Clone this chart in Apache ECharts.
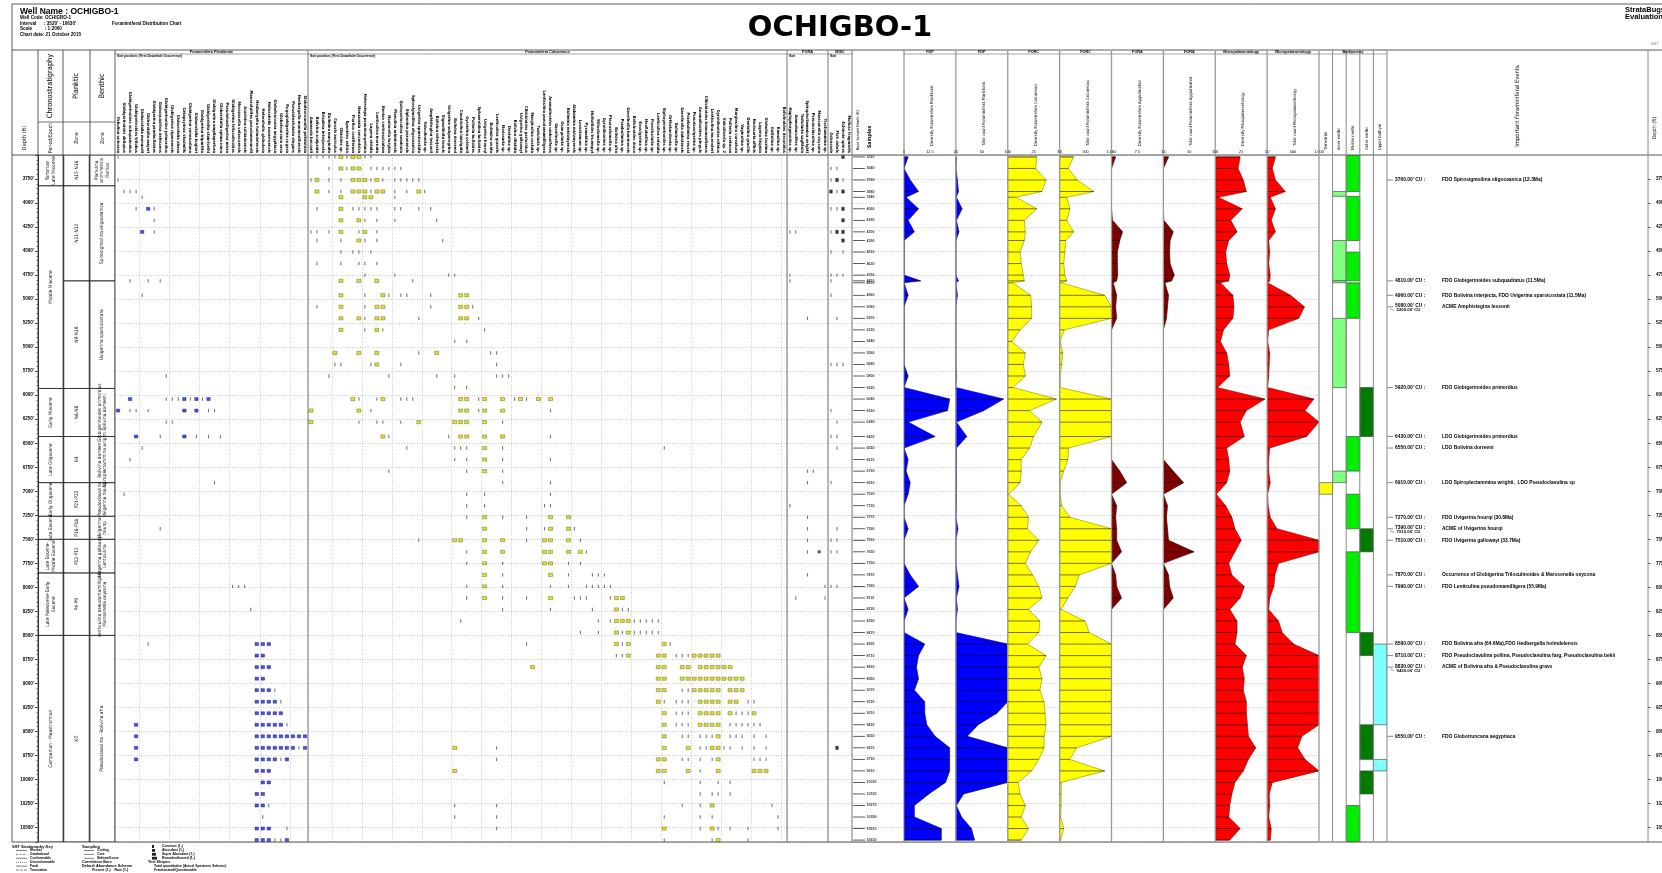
<!DOCTYPE html>
<html>
<head>
<meta charset="utf-8">
<title>OCHIGBO-1 Foraminiferal Distribution Chart</title>
<script src="https://cdn.jsdelivr.net/npm/echarts@6/dist/echarts.min.js"></script>
<style>
html,body{margin:0;padding:0;background:#ffffff;}
#chart{width:1662px;height:873px;}
</style>
</head>
<body>
<div id="chart"></div>
<script>
// ---------------- depth range & samples ----------------
const depthMin = 3500;
const depthMax = 10650;
const depthStep = 250;

const sampleDepths = [3520,3640,3760,3880,3940,4060,4180,4300,4390,4510,4630,4750,4810,4830,4960,5080,5200,5320,5440,5560,5680,5800,5920,6040,6160,6280,6430,6550,6670,6790,6910,7030,7150,7270,7390,7510,7630,7750,7870,7990,8110,8230,8350,8470,8590,8710,8830,8950,9070,9190,9310,9430,9550,9670,9790,9910,10030,10150,10270,10390,10510,10630];

// ---------------- curve logs (one value per sample) ----------------
const fdpDiversity = [2,0,3,7,1,7,2,5,0,0,0,0,8,0, 2,0,0,0,0,0,0,2,0,22,21,2, 15,0,2,1,3,2,0, 0,2,0,0,0,3,7,0,2,0,0,10,7,6,7,5,10,10,11,15,22,22,22,20,12,5,5,18,18];
const fdpCount = [1,0,3,5,1,12,1,6,0,0,0,0,5,0, 3,0,0,0,0,0,0,1,0,92,54,1, 21,1,1,1,1,1,1, 0,4,0,0,0,3,6,1,3,0,0,100,100,100,100,100,100,79,43,22,100,100,100,100,15,1,11,30,36];
const forcDiversity = [28,27,37,33,8,28,16,17,16,12,13,15,16,5, 22,23,23,12,4,17,15,17,5,47,21,33, 25,21,13,13,12,1,13, 20,19,30,22,17,24,30,33,20,31,30,19,37,30,33,31,35,36,37,35,35,30,23,10,12,17,13,20,13];
const forcCount = [270,170,340,660,140,200,140,270,120,100,80,100,140,30, 870,1000,1000,90,10,60,40,10,10,1000,1000,1000, 1000,170,160,80,10,10,40, 200,1000,1000,1000,1000,380,300,160,30,490,570,1000,1000,1000,1000,1000,1000,1000,1000,1000,330,190,870,30,30,30,20,80,20];
const foraDiversity = [1.2,0,0,0,0,0,0.3,3.2,2.4,1.7,1.7,1.8,1.5,0.5, 1.5,1.2,1.5,0,0,0,0,0,0,0,0,0, 0,0,0,2.4,4.4,0,1.5, 1.2,1.5,1.5,2.9,0,1.2,1.5,2.9,0,0,0,0,0,0,0,0,0,0,0,0,0,0,0,0,0,0,0,0,0];
const foraCount = [10,0,0,0,0,0,1,19,13,12,13,21,16,3, 10,8,6,0,0,0,0,0,0,0,0,0, 0,0,0,19,39,0,8, 6,8,10,59,0,10,12,19,0,0,0,0,0,0,0,0,0,0,0,0,0,0,0,0,0,0,0,0,0];
const microDiversity = [24,22,27,30,3,26,15,21,13,10,11,14,13,5, 17,18,17,8,5,11,13,14,2,48,30,24, 28,11,13,14,11,1,10, 16,19,25,19,13,16,28,24,14,21,21,19,30,26,28,27,30,30,31,32,39,32,27,19,16,14,13,24,14];
const microCount = [160,100,160,350,60,160,80,160,30,50,30,60,50,10, 450,720,610,30,10,50,40,30,10,900,730,1000, 760,50,30,30,60,10,20, 60,190,1000,1000,220,150,130,50,30,220,290,510,1000,1000,1000,1000,1000,1000,1000,670,590,730,1000,100,40,50,30,80,60];

const curveGroups = ['FDP','FDP','FORC','FORC','FORA','FORA','Micropalaeontology','Micropalaeontology'];
const curveTitles = ['Diversity Foraminifera Planktonic','Total count Foraminifera Planktonic','Diversity Foraminifera Calcareous','Total count Foraminifera Calcareous','Diversity Foraminifera Agglutinated','Total count Foraminifera Agglutinated','Diversity Micropalaeontology','Total count Micropalaeontology'];
const curveScaleMax = [25,100,50,1000,15,100,50,1000];
const curveValues = [fdpDiversity, fdpCount, forcDiversity, forcCount, foraDiversity, foraCount, microDiversity, microCount];

// ---------------- species lists ----------------
const planktonicSpecies = ['Orbulina universa','Globigerinoides obliquus','Globigerinoides subquadratus','Globigerinoides trilobus','Globorotalia menardii','Globorotalia mayeri','Globigerina praebulloides','Globoquadrina dehiscens','Globigerinoides primordius','Globigerina ciperoensis','Globorotalia obesa','Catapsydrax dissimilis','Globigerina venezuelana','Globorotalia kugleri','Globigerina tripartita','Globigerinita stainforthi','Globigerina ampliapertura','Globorotalia opima nana','Pseudohastigerina micra','Globigerina triloculinoides','Morozovella velascoensis','Acarinina soldadoensis','Planorotalites pseudomenardii','Hedbergella holmdelensis','Heterohelix globulosa','Heterohelix navarroensis','Globotruncana aegyptiaca','Globotruncana arca','Rugoglobigerina rugosa','Pseudotextularia elegans','Hedbergella monmouthensis','Globotruncanella petaloidea'];

const calcareousSpecies = ['Ammonia beccarii','Bolivina scalprata','Brizalina interjuncta','Bulimina marginata','Cancris auriculus','Cibicides sp.','Eponides eshira','Florilus costiferum','Hanzawaia concentrica','Heterolepa pseudoungeriana','Lagena striata','Lenticulina inornata','Nonion centrosulcatum','Nonionella turgida','Planulina ariminensis','Quinqueloculina seminula','Siphonina pozonensis','Spirosigmoilina oligoceanica','Uvigerina sparsicostata','Valvulineria sp.','Amphistegina lessonii','Bolivina interjecta','Sigmoilinita tenuis','Uvigerina subperegrina','Bolivina dorreeni','Cassidulina laevigata','Gyroidina soldanii','Pullenia bulloides','Sphaeroidina bulloides','Uvigerina hourqi','Bulimina ovata','Lenticulina grandis','Nodosaria sp.','Dentalina sp.','Bolivina dilatata','Uvigerina gallowayi','Cibicidoides perlucidus','Marginulina costata','Textularia sp.','Lenticulina pseudomamilligera','Anomalinoides umboniferus','Gavelinella sp.','Osangularia sp.','Bulimina midwayensis','Alabamina midwayensis','Loxostomum sp.','Pyramidina sp.','Nuttallides truempyi','Stilostomella sp.','Gyroidinoides sp.','Pleurostomella sp.','Bolivina afra','Praebulimina sp.','Gavelinella beninensis','Bolivinoides draco','Eouvigerina sp.','Neoflabellina sp.','Frondicularia sp.','Lenticulina rotulata','Siphogenerinoides sp.','Orthokarstenia sp.','Buliminella sp.','Gavelinella dakotensis','Praebulimina reussi','Pseudouvigerina sp.','Anomalinoides pinguis','Cibicidoides beaumontianus','Lenticulina muensteri','Gyroidinoides nitidus','Valvulineria sp. 2','Pullenia cretacea','Marginulina curvatura','Vaginulina sp.','Dentalina gracilis','Nodosaria affinis','Lagena hispida','Globulina lacrima','Guttulina sp.','Ramulina sp.','Bolivinoides decoratus'];

const agglutinatedSpecies = ['Haplophragmoides sp.','Ammobaculites sp.','Textularia sagittula','Spiroplectammina wrighti','Pseudoclavulina sp.','Marssonella oxycona','Trochammina sp.'];
const otherFossils = ['Ostracoda','Fish debris','Echinoid spines','Mollusc fragments'];

// ---------------- occurrences: [depth, rare species, common species, reworked species] ----------------
const planktonicRecords = [
  [3520,[0],[]],[3760,[0],[]],[3880,[1,2,3],[]],[3940,[4],[]],[4060,[3,6],[5]],[4180,[6],[]],[4300,[6],[4]],
  [4810,[2,5,7],[]],[4960,[4],[]],[5800,[8],[]],[6040,[8,9,10,12,14],[2,11,13,15]],[6160,[2,3,5,15,16],[0,11,13]],
  [6280,[8,9],[]],[6430,[7,13,15,17],[3,11]],[6550,[4],[]],[6670,[2],[]],[6910,[16],[]],[7030,[1],[]],[7390,[7],[]],
  [7990,[19,20,21],[]],[8230,[22],[]],[8590,[5],[23,24,25]],[8710,[],[23,24]],[8830,[],[23,24,25]],[8950,[],[23,24]],
  [9070,[26],[23,24,25]],[9190,[27],[23,24,25,26]],[9310,[],[23,24,25,26,27]],[9430,[28],[3,23,24,25,26,27]],
  [9550,[],[3,23,24,25,26,27,28,29,30,31]],[9670,[30],[3,23,24,25,26,27,28,29,31]],[9790,[27],[3,23,24,25,26,28]],
  [9910,[],[23,24,25]],[10030,[],[24,25]],[10150,[],[23,24]],[10270,[25],[23,24]],[10390,[24],[]],
  [10510,[28],[23,24,25]],[10630,[26,27],[23,24,25,28]]
];

const calcareousRecords = [
  [3520,[0,1,2,3,4,6,9,10],[5,7,8]],
  [3640,[3,6,10,11,12,13,14,15],[5,7,8]],
  [3760,[0,3,5,10,12,14,15,16,17,18],[1,7,8,9,11]],
  [3880,[3,5,10,14,16,19],[1,7,8,9,11,12,18]],
  [3940,[14],[5,9,10]],
  [4060,[1,7,8,9,10,11,14,15,18,20],[5]],
  [4180,[9,11,14,21],[5,8]],
  [4300,[0,1,3,8,11],[5,9]],
  [4390,[1,5,9,11,22],[8]],
  [4510,[5,7,8,10],[]],
  [4630,[1,5,8,9,11],[]],
  [4750,[9,14,23,24],[]],
  [4810,[17],[5,8,11]],
  [4960,[9,13,15,16,20],[5,12,25,26]],
  [5080,[1,9,20,27],[5,11,12,25,26]],
  [5200,[9,18,28],[5,8,11,12,25,26]],
  [5320,[9,12,29],[5,11]],
  [5440,[24,26],[]],
  [5560,[18,30,31],[4,8,11,21]],
  [5680,[4,5,10,15,31],[11]],
  [5800,[3,13,21,24,31,32,33],[]],
  [5920,[24,26],[]],
  [6040,[8,11,15,16,17,28,34,36],[7,12,25,26,29,32,35,38,40]],
  [6160,[10,28,40],[0,8,25,26,29,32]],
  [6280,[8,11,12,15,32],[0,18,24,25,26,29]],
  [6430,[13,23,40],[12,25,26,29,32]],
  [6550,[16,24,25,26,32,59],[29]],
  [6670,[24,26,32,40],[29]],
  [6790,[13,26,32],[29]],
  [6910,[32,40],[]],
  [7030,[26,29,40],[]],
  [7150,[26,29,39,40],[]],
  [7270,[26,32,36],[29,40,43]],
  [7390,[36,39,44],[29,40,43]],
  [7510,[18,36,45],[24,25,29,32,39,40,43]],
  [7630,[26,46],[29,32,39,40,43,45]],
  [7750,[26,32,43,45],[29,39,40]],
  [7870,[32,43,47,48,49],[29,40]],
  [7990,[26,32,40,43,46,47,48,49,50],[29]],
  [8110,[26,32,36,44,45,46,50],[29,40,51,52]],
  [8230,[32,40,47,52,53],[51]],
  [8350,[25,48,50,54,55,56,57,58],[51,52,53]],
  [8470,[45,48,52,54,55,56,57,58],[51,53]],
  [8590,[36,52,60],[51,53,59]],
  [8710,[51,52,61,62,63],[53,58,59,64,65,66,67,68]],
  [8830,[],[37,58,59,62,63,65,66,67,68,69,70]],
  [8950,[],[58,59,62,63,64,65,66,67,68,69,70,71,72]],
  [9070,[62,63],[58,59,64,65,66,67,68,70,71,72]],
  [9190,[59,61,62,63,73,74],[58,65,66,67,68,70,71]],
  [9310,[61,62,63,71,72,73],[59,65,66,67,68,70,74]],
  [9430,[61,62,63,70,71,72,73,74,75],[59,65,66,67,68]],
  [9550,[62,63,65,66,67,70,71,72,74,76],[59,68]],
  [9670,[31,65,66,69,70,72,74,76],[24,59,63,67,68]],
  [9790,[31,62,63,65,67,74,75,76],[58,59,68]],
  [9910,[65],[24,58,59,63,68,74,75,76]],
  [10030,[59,65,68,70],[]],
  [10150,[65,67,68,70],[]],
  [10270,[24,31,62,65,77],[67]],
  [10390,[24,31,59,65,67,78],[]],
  [10510,[31,65,68,70,73,78],[59,67]],
  [10630,[59,67,73],[68]]
];

const agglutinatedRecords = [
  [4300,[0,1],[]],[4750,[0],[]],[4810,[0],[]],[5200,[3],[]],[6790,[3,4],[]],[6910,[3],[]],
  [7150,[0],[]],[7270,[3],[]],[7390,[3],[]],[7510,[3],[]],[7630,[3],[],[5]],[7870,[3],[]],
  [7990,[6],[]],[8110,[1,6],[]]
];

const otherRecords = [
  [3520,[],[2]],[3640,[0,1],[]],[3760,[0,2],[1]],[3880,[1],[0,2]],[4060,[0,1],[2]],[4180,[],[2]],
  [4300,[0],[1,2]],[4390,[],[2]],[4510,[0,2],[]],[4750,[0,1,2],[]],[4810,[0],[]],[4960,[0],[]],
  [5200,[1],[]],[5680,[0,1,2],[]],[6160,[0],[]],[6280,[1],[]],[6430,[0,1],[]],[6550,[1],[]],
  [6910,[0],[]],[7390,[1],[]],[7510,[0,1],[]],[7630,[0,1],[]],[7990,[0,1],[]],[9670,[],[1]]
];

// ---------------- stratigraphy ----------------
const periodZones = [
  [3500,3820,'Tortonian\nLate Miocene'],
  [3820,5930,'Middle Miocene'],
  [5930,6430,'Early Miocene'],
  [6430,6910,'Late Oligocene'],
  [6910,7260,'Early Oligocene'],
  [7260,7500,'Late Eocene'],
  [7500,7850,'Late Eocene-\nMiddle Eocene'],
  [7850,8500,'Late Paleocene-Early\nEocene'],
  [8500,10650,'Campanian - Maastrichtian']
];
const planktonicZones = [
  [3500,3820,'N15-N16'],[3820,4810,'N11-N12'],[4810,5930,'N9-N10'],[5930,6430,'N6-N8'],[6430,6910,'N4'],
  [6910,7260,'P21-P22'],[7260,7500,'P16-P18'],[7500,7850,'P12-P15'],[7850,8500,'P4-P9'],[8500,10650,'K-T']
];
const benthicZones = [
  [3500,3820,'Planulina\nariminensis\nFlorilus'],
  [3820,4810,'Spirosigmoilina oligoceanica'],
  [4810,5930,'Uvigerina sparsicostata'],
  [5930,6430,'Globigerinoides primordius\nBolivina dorreeni'],
  [6430,6910,'Bolivina dorreeni\nSpiroplectammina wrighti'],
  [6910,7260,'Pseudoclavulina\nUvigerina hourqi'],
  [7260,7500,'Uvigerina\nhourqi'],
  [7500,7850,'Uvigerina gallowayi\nLenticulina'],
  [7850,8500,'Lenticulina pseudomamilligera\nMarssonella oxycona'],
  [8500,10650,'Pseudoclavulina - Bolivina afra']
];

// ---------------- palaeoenvironment ----------------
const environments = ['Terrestrial','Inner neritic','Middle neritic','Outer neritic','Upper bathyal'];
// [environment index, top depth, base depth]
const environmentBlocks = [
  [2,3500,3880],[1,3880,3930],[2,3930,4390],[1,4390,4810],[2,4510,4810],[1,4810,4830],[2,4830,5200],
  [1,5200,5920],[3,5920,6430],[2,6430,6790],[1,6790,6910],[0,6910,7030],[2,7030,7390],[3,7390,7630],
  [2,7630,8470],[3,8470,8710],[4,8590,9430],[3,9430,9790],[4,9790,9910],[3,9910,10150],[2,10270,10650]
];

// ---------------- events ----------------
const eventDepths = [[3760],[4810],[4960],[5080,5200],[5920],[6430],[6550],[6910],[7270],[7390,7510],[7510],[7870],[7990],[8590],[8710],[8830,9430],[9550]];
const eventNotes = [
  'FDO Spirosigmoilina oligoceanica (12.3Ma)',
  'FDO Globigerinoides subquadratus (11.5Ma)',
  'FDO Bolivina interjecta, FDO Uvigerina sparsicostata (11.5Ma)',
  'ACME Amphistegina lessonii',
  'FDO Globigerinoides primordius',
  'LDO Globigerinoides primordius',
  'LDO Bolivina dorreeni',
  'LDO Spiroplectammina wrighti,  LDO Pseudoclavulina sp',
  'FDO Uvigerina hourqi (30.8Ma)',
  'ACME of Uvigerina hourqi',
  'FDO Uvigerina gallowayi (33.7Ma)',
  'Occurrence of Globigerina Triloculinoides & Marssonella oxycona',
  'FDO Lenticulina pseudomamilligera (55.9Ma)',
  'FDO Bolivina afra (64.6Ma),FDO Hedbergella holmdelensis',
  'FDO Pseudoclavulina pollina, Pseudoclavulina farg, Pseudoclavulina bekii',
  'ACME of Bolivina afra & Pseudoclavulina gravs',
  'FDO Globotruncana aegyptiaca'
];

// ================= layout & styling =================
const SANS = "'Liberation Sans', Arial, sans-serif";
const NARROW = "'Liberation Sans Narrow','DejaVu Sans Condensed','Liberation Sans',sans-serif";
const TOP = 155, BOTTOM = 842, H = BOTTOM - TOP;
const HEAD_TOP = 50;

const grids = [], xAxes = [], yAxes = [], series = [];
const hiddenY = {type:'value', min:depthMin, max:depthMax, inverse:true, interval:depthStep,
  axisLine:{show:false}, axisTick:{show:false}, axisLabel:{show:false}, splitLine:{show:false}};
const dottedY = Object.assign({}, hiddenY, {splitLine:{show:true, lineStyle:{type:[1, 1.6], color:'#9e9e9e', width:0.6}}});

function addGrid(left, width, xAxis, yAxis) {
  const i = grids.length;
  grids.push({left:left, top:TOP, width:width, height:H, outerBoundsMode:'none', containLabel:false});
  xAxes.push(Object.assign({gridIndex:i}, xAxis));
  yAxes.push(Object.assign({gridIndex:i}, yAxis));
  return i;
}
const unitX = (max) => ({type:'value', min:0, max:max, show:false});

// ---- depth + chronostratigraphy ----
const gChrono = addGrid(38, 77, unitX(3), Object.assign({}, hiddenY, {
  axisLine:{show:true, lineStyle:{color:'#000', width:0.8}},
  axisTick:{show:true, length:3, lineStyle:{color:'#000', width:0.7}},
  minorTick:{show:true, splitNumber:5, length:1.5, lineStyle:{color:'#000', width:0.5}},
  axisLabel:{show:true, margin:4, fontSize:4.6, fontWeight:'bold', color:'#000', fontFamily:SANS,
    showMinLabel:false, showMaxLabel:false, formatter:(v) => v + "'"}
}));
const chronoItems = [];
periodZones.forEach(z => chronoItems.push({value:[0, z[0], z[1]], name:z[2]}));
planktonicZones.forEach(z => chronoItems.push({value:[1, z[0], z[1]], name:z[2]}));
benthicZones.forEach(z => chronoItems.push({value:[2, z[0], z[1]], name:z[2]}));
series.push({type:'custom', xAxisIndex:gChrono, yAxisIndex:gChrono, silent:true, clip:true, data:chronoItems,
  renderItem:function(params, api){
    const c = api.value(0);
    const p1 = api.coord([c, api.value(1)]), p2 = api.coord([c + 1, api.value(2)]);
    const name = chronoItems[params.dataIndex].name;
    return {type:'group', children:[
      {type:'rect', shape:{x:p1[0], y:p1[1], width:p2[0]-p1[0], height:p2[1]-p1[1]},
        style:{fill:'rgba(0,0,0,0)', stroke:'#222', lineWidth:0.7}},
      {type:'text', x:(p1[0]+p2[0])/2, y:(p1[1]+p2[1])/2, rotation:Math.PI/2,
        style:{text:name, fill:'#000', fontSize:4.8, fontFamily:NARROW, lineHeight:5.2,
          align:'center', verticalAlign:'middle', textAlign:'center', textVerticalAlign:'middle'}}
    ]};
  }});

// ---- distribution panels ----
function speciesAxis(names) {
  return {type:'category', data:names, position:'top', boundaryGap:true,
    axisLine:{show:false}, axisTick:{show:false},
    axisLabel:{show:true, interval:0, rotate:90, fontSize:4, fontWeight:'bold', margin:2, color:'#000', fontFamily:NARROW, hideOverlap:false},
    splitLine:{show:true, interval:(i) => i % 5 === 4, lineStyle:{type:[1, 1.6], color:'#a6a6a6', width:0.6}}};
}
function pick(records, k) {
  const out = [];
  records.forEach(r => (r[k] || []).forEach(s => out.push([s, r[0]])));
  return out;
}
function occurrenceSeries(g, records, commonStyle) {
  series.push({type:'scatter', xAxisIndex:g, yAxisIndex:g, silent:true, symbol:'rect', symbolSize:[1.1, 3.4],
    itemStyle:{color:'#555'}, data:pick(records, 1)});
  series.push({type:'scatter', xAxisIndex:g, yAxisIndex:g, silent:true, symbol:'rect', symbolSize:commonStyle.size,
    itemStyle:{color:commonStyle.color, borderColor:commonStyle.border, borderWidth:0.5}, data:pick(records, 2)});
  series.push({type:'scatter', xAxisIndex:g, yAxisIndex:g, silent:true, symbol:'rect', symbolSize:[3, 3],
    itemStyle:{color:'#a00000'}, data:pick(records, 3)});
}
const gPlank = addGrid(115, 193, speciesAxis(planktonicSpecies), dottedY);
occurrenceSeries(gPlank, planktonicRecords, {size:[3.4, 3], color:'#1c2fd6', border:'#000050'});
const gCalc = addGrid(308, 479, speciesAxis(calcareousSpecies), dottedY);
occurrenceSeries(gCalc, calcareousRecords, {size:[4, 3.2], color:'#dcd800', border:'#4a4a00'});
const gAgg = addGrid(787, 41, speciesAxis(agglutinatedSpecies), dottedY);
occurrenceSeries(gAgg, agglutinatedRecords, {size:[3, 3], color:'#222', border:'#000'});
const gOther = addGrid(828, 24, speciesAxis(otherFossils), dottedY);
occurrenceSeries(gOther, otherRecords, {size:[2.6, 3.2], color:'#111', border:'#000'});

// ---- sample column ----
const gSample = addGrid(852, 52, unitX(1), dottedY);
series.push({type:'scatter', xAxisIndex:gSample, yAxisIndex:gSample, silent:true, symbol:'rect', symbolSize:[12, 0.8],
  itemStyle:{color:'#000'}, data:sampleDepths.map(d => [0.135, d]),
  label:{show:true, position:'right', distance:1.5, fontSize:3.6, fontWeight:'bold', color:'#000', fontFamily:SANS,
    formatter:(p) => String(p.value[1])}});

// ---- curve logs ----
const curveFill = ['#0000ff','#0000ff','#ffff00','#ffff00','#800000','#800000','#ff0000','#ff0000'];
const curveEdge = ['#00008a','#00008a','#8a8a00','#8a8a00','#3a0000','#3a0000','#8a0000','#8a0000'];
const curveLeft = 904, curveWidth = 51.875;
curveValues.forEach((vals, c) => {
  const max = curveScaleMax[c];
  const g = addGrid(curveLeft + c * curveWidth, curveWidth, {
    type:'value', min:0, max:max, interval:max / 2, position:'top',
    axisLine:{show:false}, axisTick:{show:false}, splitLine:{show:false},
    axisLabel:{show:true, fontSize:3.8, margin:1.5, color:'#000', fontFamily:SANS}
  }, dottedY);
  series.push({type:'custom', xAxisIndex:g, yAxisIndex:g, silent:true, clip:true,
    data:vals.map((v, k) => [v, sampleDepths[k]]),
    renderItem:function(params, api){
      const children = [];
      if (params.dataIndex === 0) {
        const pts = [api.coord([0, sampleDepths[0]])];
        vals.forEach((v, k) => pts.push(api.coord([v, sampleDepths[k]])));
        pts.push(api.coord([0, sampleDepths[sampleDepths.length - 1]]));
        children.push({type:'polygon', shape:{points:pts}, style:{fill:curveFill[c], stroke:curveEdge[c], lineWidth:0.6}});
      }
      const a = api.coord([0, api.value(1)]), b = api.coord([api.value(0), api.value(1)]);
      if (b[0] - a[0] > 0.8) {
        children.push({type:'line', shape:{x1:a[0], y1:a[1], x2:b[0], y2:b[1]}, style:{stroke:'#000', lineWidth:0.55}});
      }
      return {type:'group', children:children};
    }});
});

// ---- palaeoenvironment ----
const envFill = ['#ffff00','#80ff80','#00ee00','#007a00','#80ffff'];
const gEnv = addGrid(1319, 68, unitX(5), hiddenY);
series.push({type:'custom', xAxisIndex:gEnv, yAxisIndex:gEnv, silent:true, clip:true, data:environmentBlocks,
  renderItem:function(params, api){
    const c = api.value(0);
    const p1 = api.coord([c, api.value(1)]), p2 = api.coord([c + 1, api.value(2)]);
    return {type:'rect', shape:{x:p1[0], y:p1[1], width:p2[0]-p1[0], height:p2[1]-p1[1]},
      style:{fill:envFill[c], stroke:'#3a3a3a', lineWidth:0.6}};
  }});

// ---- events ----
const gEvents = addGrid(1387, 261, unitX(1), hiddenY);
series.push({type:'custom', xAxisIndex:gEvents, yAxisIndex:gEvents, silent:true,
  data:eventDepths.map(d => [0, d[0]]),
  renderItem:function(params, api){
    const depths = eventDepths[params.dataIndex];
    const p = api.coord([0, api.value(1)]);
    const x0 = p[0], y = p[1];
    const font = {fill:'#000', fontSize:4.9, fontWeight:'bold', fontFamily:SANS, align:'left', verticalAlign:'middle',
      textAlign:'left', textVerticalAlign:'middle'};
    const children = [
      {type:'line', shape:{x1:x0, y1:y, x2:x0 + 6, y2:y}, style:{stroke:'#333', lineWidth:0.6}},
      {type:'text', x:x0 + 8, y:depths.length > 1 ? y - 0.8 : y, style:Object.assign({text:depths[0].toFixed(2) + "' CU :"}, font)},
      {type:'text', x:x0 + 55, y:y, style:Object.assign({text:eventNotes[params.dataIndex]}, font)}
    ];
    if (depths.length > 1) {
      children.push({type:'text', x:x0 + 9.5, y:y + 3.2, style:Object.assign({}, font, {text:depths[1].toFixed(2) + "' CU", fontSize:4.3})});
      children.push({type:'line', shape:{x1:x0 + 3, y1:y + 2, x2:x0 + 7, y2:y + 3.5}, style:{stroke:'#333', lineWidth:0.5}});
    }
    return {type:'group', children:children};
  }});

// ---- right depth track ----
addGrid(1648, 14, unitX(1), Object.assign({}, hiddenY, {
  axisLine:{show:false},
  axisTick:{show:true, inside:true, length:2.5, lineStyle:{color:'#000', width:0.7}},
  axisLabel:{show:true, inside:true, margin:8, fontSize:4.6, fontWeight:'bold', color:'#000', fontFamily:SANS,
    showMinLabel:false, showMaxLabel:false, formatter:(v) => v + "'"}
}));

// ================= frame, headings, legend =================
const G = [];
function gl(x1, y1, x2, y2, stroke, w, dash) {
  G.push({type:'line', silent:true, z:50, shape:{x1:x1, y1:y1, x2:x2, y2:y2},
    style:{stroke:stroke || '#000', lineWidth:w || 0.8, lineDash:dash || null}});
}
function gt(x, y, text, o) {
  o = o || {};
  const align = o.align || 'left', valign = o.valign || 'middle';
  G.push({type:'text', silent:true, z:51, x:x, y:y, rotation:o.rot ? Math.PI / 2 : 0,
    style:{text:text, fill:o.color || '#000', fontSize:o.size || 5, fontWeight:o.bold ? 'bold' : 'normal',
      fontFamily:o.font || SANS, align:align, verticalAlign:valign, textAlign:align, textVerticalAlign:valign,
      lineHeight:o.lh || undefined}});
}

// outer frame and header rules
gl(12, 4, 1662, 4, '#333', 0.8);
gl(12, 4, 12, BOTTOM, '#333', 0.8);
gl(12, HEAD_TOP, 1662, HEAD_TOP, '#333', 0.8);
gl(12, TOP, 1662, TOP, '#555', 1);
gl(12, BOTTOM, 1662, BOTTOM, '#555', 1);
gl(38, 122, 115, 122, '#333', 0.7);
gl(115, 54, 852, 54, '#666', 0.6);
gl(904, 54, 1319, 54, '#666', 0.6);
gl(1319, 54, 1387, 54, '#666', 0.6);

// column dividers
[38, 63, 90, 115].forEach(x => gl(x, HEAD_TOP, x, BOTTOM, '#333', 0.8));
[308, 787, 828, 852, 904].forEach(x => gl(x, HEAD_TOP, x, BOTTOM, '#777', 1));
for (let c = 1; c <= 8; c++) gl(curveLeft + c * curveWidth, HEAD_TOP, curveLeft + c * curveWidth, BOTTOM, '#999', 1.3);
[1332.6, 1346.2, 1359.8, 1373.4, 1387].forEach(x => gl(x, HEAD_TOP, x, BOTTOM, '#888', 1));
gl(1648, HEAD_TOP, 1648, BOTTOM, '#888', 1);

// well header
gt(20, 12, 'Well Name : OCHIGBO-1', {size:8.5, bold:true});
gt(20, 18, 'Well Code: OCHIGBO-1', {size:4.6, bold:true});
gt(20, 23.5, 'Interval      : 3520\' - 10630\'', {size:4.6, bold:true});
gt(20, 29, 'Scale          : 1:2000', {size:4.6, bold:true});
gt(20, 34.5, 'Chart date: 21 October 2015', {size:4.6, bold:true});
gt(112, 23.5, 'Foraminiferal Distribution Chart', {size:4.6, bold:true});
gt(840, 28, 'OCHIGBO-1', {size:29, bold:true, font:"'DejaVu Sans', 'Liberation Sans', sans-serif", align:'center'});
gt(1625, 10, 'StrataBugs', {size:7.5, bold:true});
gt(1625, 17, 'Evaluation', {size:7.5, bold:true});
gt(1651, 44, 'SST', {size:3.8, color:'#777'});

// chronostratigraphy headings
gt(25, 138, 'Depth (ft)', {rot:true, size:5.6, font:NARROW, align:'center'});
gt(50.5, 86, 'Chronostratigraphy', {rot:true, size:7.4, font:NARROW, align:'center'});
gt(50.5, 138, 'Period/Epoch', {rot:true, size:5.2, font:NARROW, align:'center'});
gt(76.5, 86, 'Planktic', {rot:true, size:7.4, font:NARROW, align:'center'});
gt(76.5, 138, 'Zone', {rot:true, size:5.2, font:NARROW, align:'center'});
gt(102.5, 86, 'Benthic', {rot:true, size:7.4, font:NARROW, align:'center'});
gt(102.5, 138, 'Zone', {rot:true, size:5.2, font:NARROW, align:'center'});

// distribution group headings
[[115, 308, 'Foraminifera Planktonic'], [308, 787, 'Foraminifera Calcareous'], [787, 828, 'FORA'], [828, 852, 'MISC']].forEach(h => {
  gt((h[0] + h[1]) / 2, 51.8, h[2], {size:3.8, bold:true, align:'center'});
  gt(h[0] + 2, 56.2, h[1] - h[0] > 60 ? 'Sort position: (First Downhole Occurrence)' : 'Sort', {size:3.2, bold:true});
});

// sample column headings
gt(858, 150, 'Base Sample Depth (ft)', {rot:true, size:3.8, font:NARROW, align:'left'});
gt(870, 148, 'Samples', {rot:true, size:5.2, bold:true, font:NARROW, align:'left'});

// curve headings
curveTitles.forEach((t, c) => {
  const x0 = curveLeft + c * curveWidth;
  gt(x0 + curveWidth / 2, 51.8, curveGroups[c], {size:3.8, bold:true, align:'center'});
  gt(x0 + curveWidth / 2 + 2, 146, t, {rot:true, size:4.1, font:NARROW, align:'left'});
});

// environment headings
gt(1353, 51.8, 'Bathymetry', {size:3.8, bold:true, align:'center'});
environments.forEach((e, i) => gt(1319 + i * 13.6 + 6.8, 150, e, {rot:true, size:4.1, font:NARROW, align:'left'}));

// events & right depth headings
gt(1517, 106, 'Important Foraminiferal Events', {rot:true, size:5.8, font:NARROW, align:'center'});
gt(1655, 128, 'Depth (ft)', {rot:true, size:5.2, font:NARROW, align:'center'});

// key
gt(12, 846.5, 'SST Stratigraphy Key', {size:4, bold:true});
[['Normal', null], ['Gradational', [2, 1.5]], ['Conformable', null], ['Unconformable', [1, 1]], ['Fault', null], ['Truncation', [3, 1]]].forEach((k, i) => {
  const y = 850.5 + i * 3.9;
  gl(16, y, 27, y, '#000', 0.5, k[1]);
  gt(30, y, k[0], {size:3.4, bold:true});
});
gt(82, 846.5, 'Sampling', {size:4, bold:true});
['Cutting', 'Core', 'Sidewall core'].forEach((k, i) => {
  const y = 850.5 + i * 3.9;
  gl(84, y, 94, y, '#000', 0.5);
  gt(97, y, k, {size:3.4, bold:true});
});
gt(82, 862.2, 'Correlation Bars', {size:3.8, bold:true});
gt(82, 866.1, 'Default Abundance Scheme', {size:3.8, bold:true});
gt(92, 870, 'Present (1-)    Rare (1-)', {size:3.4, bold:true});
['Common (1-)', 'Abundant (1-)', 'Super Abundant (1-)', 'Reworked/caved (1-)'].forEach((k, i) => {
  const y = 846.5 + i * 3.9;
  G.push({type:'rect', silent:true, z:51, shape:{x:152, y:y - 1.4, width:2 + i, height:2.8}, style:{fill:'#222'}});
  gt(162, y, k, {size:3.4, bold:true});
});
gt(148, 862.2, 'Text Shapes', {size:3.8, bold:true});
gt(154, 866.1, 'Total quantitative (Actual Specimen Scheme)', {size:3.4, bold:true});
gt(154, 870, 'Fractionated/Questionable', {size:3.4, bold:true});

// ================= chart =================
const chart = echarts.init(document.getElementById('chart'), null, {renderer:'canvas'});
chart.setOption({
  animation:false,
  backgroundColor:'#ffffff',
  textStyle:{fontFamily:SANS},
  grid:grids,
  xAxis:xAxes,
  yAxis:yAxes,
  series:series,
  graphic:{elements:G}
});
</script>
</body>
</html>
